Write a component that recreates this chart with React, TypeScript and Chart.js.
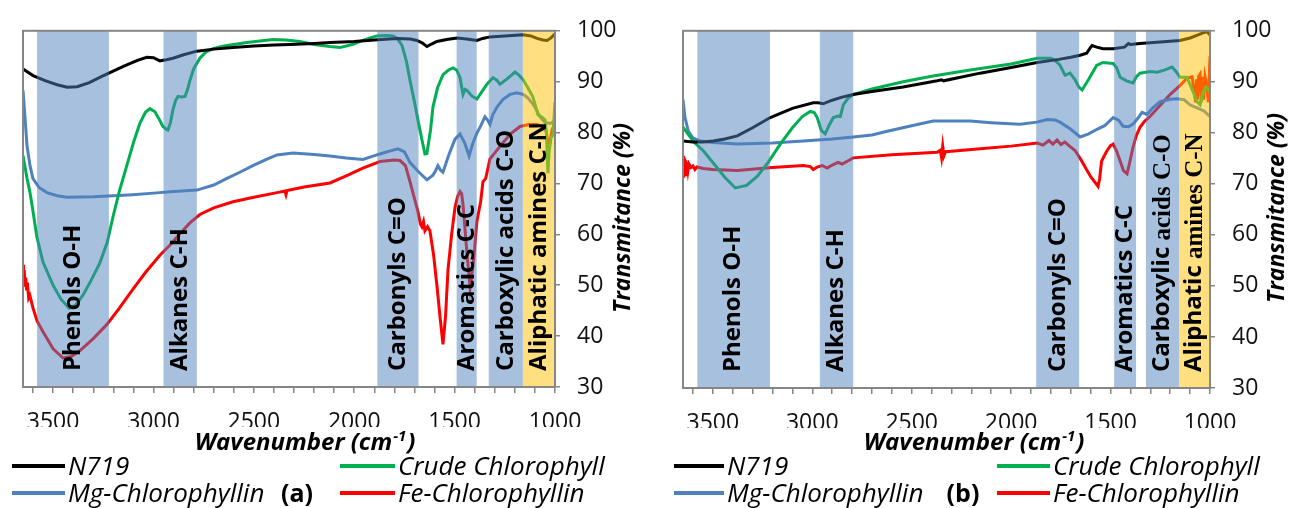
import React, { useEffect, useRef } from 'react';
import { Chart, registerables } from 'chart.js';

Chart.register(...registerables);

// ---------- data ----------
const seriesNames = ['N719', 'Crude Chlorophyll', 'Mg-Chlorophyllin', 'Fe-Chlorophyllin'];
const xTickValues = [3500, 3000, 2500, 2000, 1500, 1000];
const yTickValues = [30, 40, 50, 60, 70, 80, 90, 100];
const bandLabels = ['Phenols O-H', 'Alkanes C-H', 'Carbonyls C=O', 'Aromatics C-C', 'Carboxylic acids C-O', 'Aliphatic amines C-N'];
const bandSerifTailsB = ['', '', '', '', 'acids C-O', 'amines C-N'];
const bandRangesA = [[3580, 3222], [2950, 2784], [1885, 1680], [1490, 1390], [1330, 1160], [1160, 1000]];
const bandRangesB = [[3578, 3213], [2962, 2794], [1874, 1658], [1482, 1372], [1322, 1156], [1156, 1000]];

// panel (a)  [wavenumber, transmittance]
const aN719 = [
  [3650, 92.5], [3600, 91.2], [3540, 90.2], [3480, 89.4], [3430, 88.9], [3380, 89.0], [3320, 89.8], [3260, 91.0],
  [3217, 91.8], [3150, 93.0], [3080, 94.2], [3033, 94.8], [3000, 94.7], [2968, 94.1], [2935, 94.3], [2903, 94.6],
  [2850, 95.3], [2784, 96.0], [2700, 96.4], [2604, 96.7], [2500, 97.0], [2400, 97.2], [2320, 97.3], [2200, 97.5],
  [2121, 97.7], [2000, 97.9], [1900, 98.2], [1787, 98.5], [1720, 98.4], [1688, 98.1], [1660, 97.6], [1638, 96.9],
  [1615, 97.4], [1588, 97.9], [1540, 98.3], [1488, 98.6], [1440, 98.4], [1389, 98.1], [1360, 98.5], [1324, 98.8],
  [1250, 99.0], [1159, 99.2], [1120, 99.0], [1090, 98.5], [1060, 98.2], [1040, 98.1], [1020, 98.6], [1000, 99.4],
];
const aCrude = [
  [3650, 75.5], [3641, 73.5], [3630, 71.0], [3616, 68.4], [3600, 64.5], [3581, 59.5], [3550, 54.5], [3500, 50.0],
  [3460, 47.2], [3420, 45.5], [3390, 46.0], [3352, 48.0], [3310, 51.0], [3267, 54.4], [3230, 58.5], [3202, 63.4],
  [3170, 68.5], [3133, 73.5], [3100, 78.0], [3068, 81.8], [3040, 84.0], [3018, 84.7], [2993, 84.1], [2970, 82.5],
  [2953, 81.2], [2935, 80.6], [2928, 80.5], [2915, 82.0], [2903, 84.5], [2890, 86.3], [2878, 87.1], [2860, 87.0],
  [2843, 87.1], [2830, 88.5], [2819, 90.2], [2800, 92.5], [2769, 94.6], [2740, 95.8], [2704, 96.5], [2650, 97.0],
  [2600, 97.3], [2535, 97.7], [2470, 98.0], [2405, 98.3], [2340, 98.2], [2271, 97.9], [2200, 97.3], [2121, 96.9],
  [2071, 96.7], [2010, 97.3], [1957, 98.1], [1920, 98.6], [1887, 99.0], [1840, 99.1], [1807, 99.0], [1785, 98.5],
  [1762, 97.1], [1740, 94.0], [1722, 90.2], [1700, 86.0], [1683, 82.5], [1665, 79.0], [1648, 75.8], [1638, 75.9],
  [1620, 80.5], [1608, 85.0], [1585, 88.8], [1558, 91.4], [1530, 92.3], [1508, 92.7], [1490, 92.3], [1473, 90.8],
  [1458, 87.5], [1448, 88.5], [1438, 88.3], [1415, 87.2], [1389, 86.6], [1365, 88.0], [1339, 89.5], [1309, 90.8],
  [1290, 90.3], [1274, 89.5], [1240, 90.5], [1199, 91.9], [1180, 91.3], [1159, 90.4], [1135, 88.8], [1110, 87.0],
  [1085, 83.5], [1065, 83.0], [1050, 82.5], [1043, 80.0], [1038, 75.0], [1035, 72.0], [1030, 76.0], [1020, 79.0],
  [1010, 79.5], [1000, 86.0],
];
const aMg = [
  [3650, 88.3], [3640, 83.0], [3630, 77.4], [3615, 73.5], [3601, 71.0], [3570, 69.2], [3531, 68.2], [3480, 67.6],
  [3431, 67.3], [3300, 67.4], [3200, 67.6], [3103, 67.8], [3000, 68.1], [2900, 68.4], [2784, 68.7], [2700, 69.7],
  [2634, 71.0], [2570, 72.2], [2505, 73.5], [2440, 74.7], [2385, 75.6], [2305, 76.0], [2200, 75.7], [2121, 75.4],
  [2040, 75.0], [1957, 74.7], [1872, 75.8], [1820, 76.4], [1782, 76.8], [1750, 76.2], [1722, 74.1], [1680, 72.3],
  [1638, 70.7], [1608, 71.6], [1595, 72.5], [1583, 73.5], [1570, 72.6], [1558, 72.2], [1530, 75.5], [1498, 78.7],
  [1473, 79.7], [1450, 78.0], [1428, 75.4], [1410, 77.8], [1389, 79.9], [1370, 81.3], [1349, 83.1], [1335, 82.4],
  [1324, 81.6], [1310, 83.5], [1289, 85.0], [1260, 86.5], [1224, 87.5], [1190, 87.8], [1159, 87.5], [1135, 86.8],
  [1110, 85.6], [1090, 84.3], [1075, 83.1], [1050, 82.0], [1025, 81.8], [1000, 82.2],
];
const aFe = [
  [3650, 54.0], [3647, 51.5], [3644, 53.0], [3640, 50.0], [3636, 51.5], [3632, 49.0], [3628, 50.5], [3622, 47.5],
  [3616, 48.0], [3600, 45.5], [3580, 43.0], [3551, 40.9], [3500, 37.5], [3451, 35.7], [3410, 36.0], [3367, 37.1],
  [3300, 39.5], [3232, 42.3], [3170, 45.5], [3103, 49.2], [3040, 52.5], [2968, 55.9], [2920, 57.8], [2868, 60.1],
  [2820, 62.2], [2769, 63.9], [2700, 65.2], [2604, 66.4], [2500, 67.3], [2385, 68.2], [2345, 68.5], [2340, 67.8],
  [2335, 68.6], [2250, 69.3], [2121, 70.1], [2040, 71.5], [1957, 73.0], [1872, 74.3], [1800, 74.6], [1772, 74.5],
  [1745, 73.5], [1722, 70.3], [1700, 67.0], [1683, 64.5], [1670, 62.0], [1663, 61.5], [1655, 62.5], [1648, 60.7],
  [1635, 61.5], [1623, 60.7], [1605, 56.0], [1588, 49.9], [1572, 43.5], [1558, 38.4], [1545, 44.0], [1533, 53.0],
  [1515, 60.0], [1498, 65.3], [1485, 67.5], [1473, 68.4], [1465, 68.0], [1458, 65.8], [1440, 57.0], [1423, 49.5],
  [1405, 55.0], [1389, 62.6], [1370, 66.5], [1359, 70.3], [1345, 71.0], [1324, 74.8], [1290, 76.5], [1259, 78.0],
  [1220, 79.8], [1174, 81.2], [1130, 81.6], [1090, 81.6], [1070, 81.2], [1060, 80.8], [1045, 80.5], [1035, 78.0],
  [1025, 78.0], [1015, 80.5], [1005, 81.5], [1000, 82.5],
];

// panel (b)
const bN719 = [
  [3650, 78.4], [3600, 78.2], [3550, 78.2], [3497, 78.4], [3440, 78.8], [3377, 79.4], [3300, 81.0], [3211, 83.0],
  [3100, 84.8], [2995, 85.9], [2970, 85.9], [2945, 85.7], [2900, 86.4], [2850, 87.0], [2794, 87.5], [2700, 88.1],
  [2543, 89.0], [2372, 90.2], [2350, 90.4], [2340, 90.2], [2156, 91.7], [2000, 92.8], [1869, 93.8], [1760, 94.4],
  [1700, 94.8], [1653, 95.2], [1620, 95.6], [1600, 96.8], [1593, 97.1], [1570, 96.8], [1538, 96.5], [1487, 96.5],
  [1430, 96.8], [1410, 97.5], [1400, 97.3], [1352, 97.5], [1250, 97.8], [1151, 98.1], [1100, 98.6], [1060, 99.2],
  [1035, 99.6], [1015, 99.8], [1000, 99.2],
];
const bCrude = [
  [3650, 81.1], [3620, 79.5], [3590, 78.0], [3548, 76.5], [3500, 74.2], [3440, 71.3], [3387, 69.2], [3330, 69.7],
  [3276, 71.5], [3220, 74.3], [3161, 77.8], [3100, 81.0], [3050, 83.2], [3010, 84.2], [2990, 84.0], [2975, 83.0],
  [2955, 80.5], [2935, 79.8], [2915, 81.5], [2894, 83.0], [2870, 83.3], [2859, 83.2], [2844, 85.5], [2820, 86.8],
  [2794, 87.5], [2700, 88.6], [2543, 90.0], [2400, 91.1], [2206, 92.3], [2000, 93.5], [1869, 94.6], [1800, 94.6],
  [1779, 94.2], [1755, 93.3], [1729, 91.3], [1715, 91.5], [1704, 91.7], [1680, 90.5], [1660, 89.0], [1643, 88.4],
  [1610, 90.5], [1570, 93.2], [1538, 93.8], [1487, 93.6], [1470, 92.8], [1452, 90.9], [1420, 90.2], [1387, 89.8],
  [1370, 91.0], [1352, 91.7], [1300, 92.0], [1266, 91.9], [1230, 92.3], [1191, 92.9], [1170, 92.0], [1151, 90.9],
  [1116, 90.9], [1090, 88.5], [1065, 86.1], [1050, 85.5], [1035, 88.0], [1020, 89.0], [1000, 88.0],
];
const bMg = [
  [3650, 86.5], [3640, 83.0], [3623, 80.3], [3600, 79.0], [3563, 78.4], [3500, 78.1], [3377, 77.8], [3200, 78.0],
  [3045, 78.4], [2900, 78.8], [2794, 79.2], [2700, 79.6], [2623, 80.3], [2500, 81.4], [2392, 82.3], [2300, 82.3],
  [2206, 82.3], [2100, 82.0], [1955, 81.7], [1870, 82.1], [1819, 82.6], [1780, 82.5], [1754, 82.1], [1700, 80.7],
  [1653, 79.2], [1610, 79.8], [1568, 80.7], [1530, 81.4], [1487, 83.0], [1460, 82.5], [1437, 81.3], [1410, 81.2],
  [1387, 81.7], [1360, 83.0], [1342, 84.0], [1317, 83.6], [1290, 84.8], [1251, 86.1], [1200, 86.6], [1166, 86.7],
  [1130, 86.5], [1101, 85.5], [1060, 84.8], [1030, 84.3], [1000, 83.2],
];
const bFe = [
  [3650, 71.5], [3648, 75.5], [3645, 72.0], [3642, 75.0], [3639, 71.8], [3636, 74.6], [3633, 72.3], [3630, 74.2],
  [3625, 72.6], [3620, 73.9], [3610, 73.2], [3600, 73.5], [3590, 72.8], [3580, 73.3], [3548, 73.0], [3500, 72.8],
  [3377, 72.6], [3200, 73.2], [3045, 73.6], [3010, 73.4], [2995, 72.8], [2975, 73.3], [2950, 73.6], [2925, 73.1],
  [2900, 73.7], [2870, 74.2], [2850, 73.9], [2794, 75.1], [2600, 75.7], [2372, 76.2], [2356, 76.6], [2350, 75.2],
  [2344, 77.4], [2338, 75.5], [2330, 76.3], [2300, 76.4], [2156, 76.9], [2000, 77.4], [1869, 78.0], [1840, 77.6],
  [1810, 78.5], [1790, 77.8], [1769, 78.6], [1750, 77.7], [1730, 78.2], [1700, 77.2], [1680, 76.6], [1668, 75.9],
  [1650, 74.8], [1635, 73.8], [1618, 72.6], [1600, 71.4], [1580, 70.4], [1563, 69.5], [1555, 71.0], [1545, 74.5],
  [1530, 75.6], [1518, 76.5], [1500, 77.5], [1487, 77.8], [1470, 76.5], [1452, 74.5], [1435, 72.6], [1417, 72.0],
  [1405, 74.0], [1387, 77.2], [1370, 79.5], [1352, 81.1], [1330, 82.2], [1302, 83.2], [1250, 85.4], [1201, 87.5],
  [1150, 89.3], [1116, 90.7], [1090, 91.0], [1080, 88.0], [1072, 86.0], [1068, 90.5], [1063, 86.5], [1058, 91.0],
  [1050, 91.5], [1044, 86.0], [1038, 91.0], [1032, 86.5], [1025, 91.0], [1015, 89.0], [1008, 86.0], [1003, 92.0],
  [1000, 95.0],
];

// ---------- styles / layout ----------
const SERIES_COLORS = ['#000000', '#00B050', '#4F81BD', '#FF0000'];
const BAND_BLUE = 'rgba(79,129,189,0.5)';
const BAND_YELLOW = 'rgba(255,192,0,0.5)';
const AXIS_GRAY = '#868686';
const FONT = '"Open Sans", "DejaVu Sans", sans-serif';
const SERIF = '"Liberation Serif", "DejaVu Serif", serif';

type Panel = {
  id: string;
  left: number;
  width: number;
  pad: { left: number; top: number; right: number; bottom: number };
  series: number[][][];
  bands: number[][];
  serifTails: string[] | null;
  yTitle: { x: number; y: number };
  xTitle: { x: number; y: number };
  legendLines: number[][];
  legendY: number[];
  tag: string;
  tagX: number;
};

const panels: Panel[] = [
  {
    id: 'a', left: 0, width: 655,
    pad: { left: 23, top: 22, right: 25, bottom: 81 },
    series: [aN719, aCrude, aMg, aFe],
    bands: bandRangesA, serifTails: null,
    yTitle: { x: 623, y: 218 }, xTitle: { x: 304, y: 450 },
    legendLines: [[12, 65], [340, 395]], legendY: [466, 493],
    tag: '(a)', tagX: 297,
  },
  {
    id: 'b', left: 655, width: 636,
    pad: { left: 28, top: 25, right: 6, bottom: 80 },
    series: [bN719, bCrude, bMg, bFe],
    bands: bandRangesB, serifTails: bandSerifTailsB,
    yTitle: { x: 622, y: 208 }, xTitle: { x: 318, y: 450 },
    legendLines: [[19, 69], [342, 395]], legendY: [466, 493],
    tag: '(b)', tagX: 308,
  },
];

function overlayPlugin(p: Panel) {
  return {
    id: 'overlay_' + p.id,
    afterDatasetsDraw(chart: any) {
      const { ctx, chartArea: ca, scales } = chart;
      const xs = scales.x;
      ctx.save();
      // bands (semi-transparent, over the lines)
      p.bands.forEach((b, i) => {
        const x1 = xs.getPixelForValue(b[0]);
        const x2 = xs.getPixelForValue(b[1]);
        ctx.fillStyle = i === p.bands.length - 1 ? BAND_YELLOW : BAND_BLUE;
        ctx.fillRect(Math.min(x1, x2), ca.top, Math.abs(x2 - x1), ca.bottom - ca.top);
      });
      // band labels
      p.bands.forEach((b, i) => {
        const cx = (xs.getPixelForValue(b[0]) + xs.getPixelForValue(b[1])) / 2;
        const label = bandLabels[i];
        const tail = p.serifTails ? p.serifTails[i] : '';
        const head = tail ? label.slice(0, label.length - tail.length) : label;
        ctx.save();
        ctx.translate(cx, ca.bottom - 16);
        ctx.rotate(-Math.PI / 2);
        ctx.textAlign = 'left';
        ctx.textBaseline = 'middle';
        ctx.fillStyle = '#000';
        ctx.font = `bold 24px ${FONT}`;
        ctx.fillText(head, 0, 0);
        if (tail) {
          const w = ctx.measureText(head).width;
          ctx.font = `bold 25px ${SERIF}`;
          ctx.fillText(tail, w, 1);
        }
        ctx.restore();
      });
      // plot frame
      ctx.strokeStyle = AXIS_GRAY;
      ctx.lineWidth = 2;
      ctx.strokeRect(ca.left, ca.top, ca.right - ca.left, ca.bottom - ca.top);
      // y title (rotated, reading upwards)
      ctx.save();
      ctx.translate(p.yTitle.x, p.yTitle.y);
      ctx.rotate(-Math.PI / 2);
      ctx.textAlign = 'center';
      ctx.textBaseline = 'middle';
      ctx.fillStyle = '#000';
      ctx.font = `italic bold 23px ${FONT}`;
      ctx.fillText('Transmitance (%)', 0, 0);
      ctx.restore();
      // x title with superscript
      ctx.fillStyle = '#000';
      ctx.textBaseline = 'alphabetic';
      ctx.textAlign = 'left';
      const big = `italic bold 24px ${FONT}`;
      const small = `italic bold 15px ${FONT}`;
      const t1 = 'Wavenumber (cm', t2 = '-1', t3 = ')';
      ctx.font = big; const w1 = ctx.measureText(t1).width; const w3 = ctx.measureText(t3).width;
      ctx.font = small; const w2 = ctx.measureText(t2).width;
      let tx = p.xTitle.x - (w1 + w2 + w3) / 2;
      ctx.font = big; ctx.fillText(t1, tx, p.xTitle.y); tx += w1;
      ctx.font = small; ctx.fillText(t2, tx + 1, p.xTitle.y - 9); tx += w2 + 2;
      ctx.font = big; ctx.fillText(t3, tx, p.xTitle.y);
      // legend
      const rows = [[0, 1], [2, 3]];
      rows.forEach((row, r) => {
        const y = p.legendY[r];
        row.forEach((si, c) => {
          const [lx1, lx2] = p.legendLines[c];
          ctx.strokeStyle = SERIES_COLORS[si];
          ctx.lineWidth = 4;
          ctx.beginPath();
          ctx.moveTo(lx1, y);
          ctx.lineTo(lx2, y);
          ctx.stroke();
          ctx.fillStyle = '#000';
          ctx.font = `italic 26px ${FONT}`;
          ctx.textAlign = 'left';
          ctx.textBaseline = 'alphabetic';
          ctx.fillText(seriesNames[si], lx2 + 3, y + 9);
        });
      });
      ctx.font = `bold 25px ${FONT}`;
      ctx.textAlign = 'center';
      ctx.fillText(p.tag, p.tagX, p.legendY[1] + 9);
      ctx.restore();
    },
  };
}

function buildChart(canvas: HTMLCanvasElement, p: Panel) {
  const datasets = p.series.map((s, i) => ({
    label: seriesNames[i],
    data: s.map((pt) => ({ x: pt[0], y: pt[1] })),
    borderColor: SERIES_COLORS[i],
    backgroundColor: SERIES_COLORS[i],
    borderWidth: 3,
    pointRadius: 0,
    tension: 0,
    fill: false,
  }));
  return new Chart(canvas, {
    type: 'line',
    data: { datasets },
    options: {
      animation: false,
      responsive: false,
      devicePixelRatio: 1,
      layout: { padding: p.pad },
      plugins: { legend: { display: false }, tooltip: { enabled: false } },
      scales: {
        x: {
          type: 'linear',
          reverse: true,
          min: 1000,
          max: 3650,
          ticks: {
            stepSize: 100,
            includeBounds: false,
            autoSkip: false,
            maxRotation: 0,
            minRotation: 0,
            padding: 16,
            color: '#111',
            font: { family: FONT, size: 23 },
            callback: (v: any) => (xTickValues.includes(Number(v)) ? String(v) : ''),
          },
          grid: { drawOnChartArea: false, drawTicks: true, tickLength: 6, color: AXIS_GRAY, lineWidth: 1.5 },
          border: { display: true, color: AXIS_GRAY, width: 2 },
          afterFit: (s: any) => { s.height = 40; },
        },
        y: {
          position: 'right',
          min: 30,
          max: 100,
          ticks: {
            stepSize: 10,
            padding: 17,
            color: '#111',
            font: { family: FONT, size: 23 },
            callback: (v: any) => (yTickValues.includes(Number(v)) ? String(v) : ''),
          },
          grid: { drawOnChartArea: false, drawTicks: true, tickLength: 5, color: AXIS_GRAY, lineWidth: 1.5 },
          border: { display: true, color: AXIS_GRAY, width: 2 },
          afterFit: (s: any) => { s.width = 75; },
        },
      },
    } as any,
    plugins: [overlayPlugin(p)],
  });
}

function PanelChart({ p }: { p: Panel }) {
  const ref = useRef<HTMLCanvasElement | null>(null);
  useEffect(() => {
    if (!ref.current) return;
    const chart = buildChart(ref.current, p);
    let alive = true;
    if ((document as any).fonts && (document as any).fonts.ready) {
      (document as any).fonts.ready.then(() => { if (alive) chart.update(); });
    }
    return () => { alive = false; chart.destroy(); };
  }, [p]);
  return (
    <canvas
      ref={ref}
      width={p.width}
      height={508}
      style={{ position: 'absolute', left: p.left, top: 0, width: p.width, height: 508 }}
    />
  );
}

export default function App() {
  return (
    <div style={{ position: 'fixed', left: 0, top: 0, width: 1291, height: 508, background: '#fff', overflow: 'hidden' }}>
      {panels.map((p) => (
        <PanelChart key={p.id} p={p} />
      ))}
    </div>
  );
}
